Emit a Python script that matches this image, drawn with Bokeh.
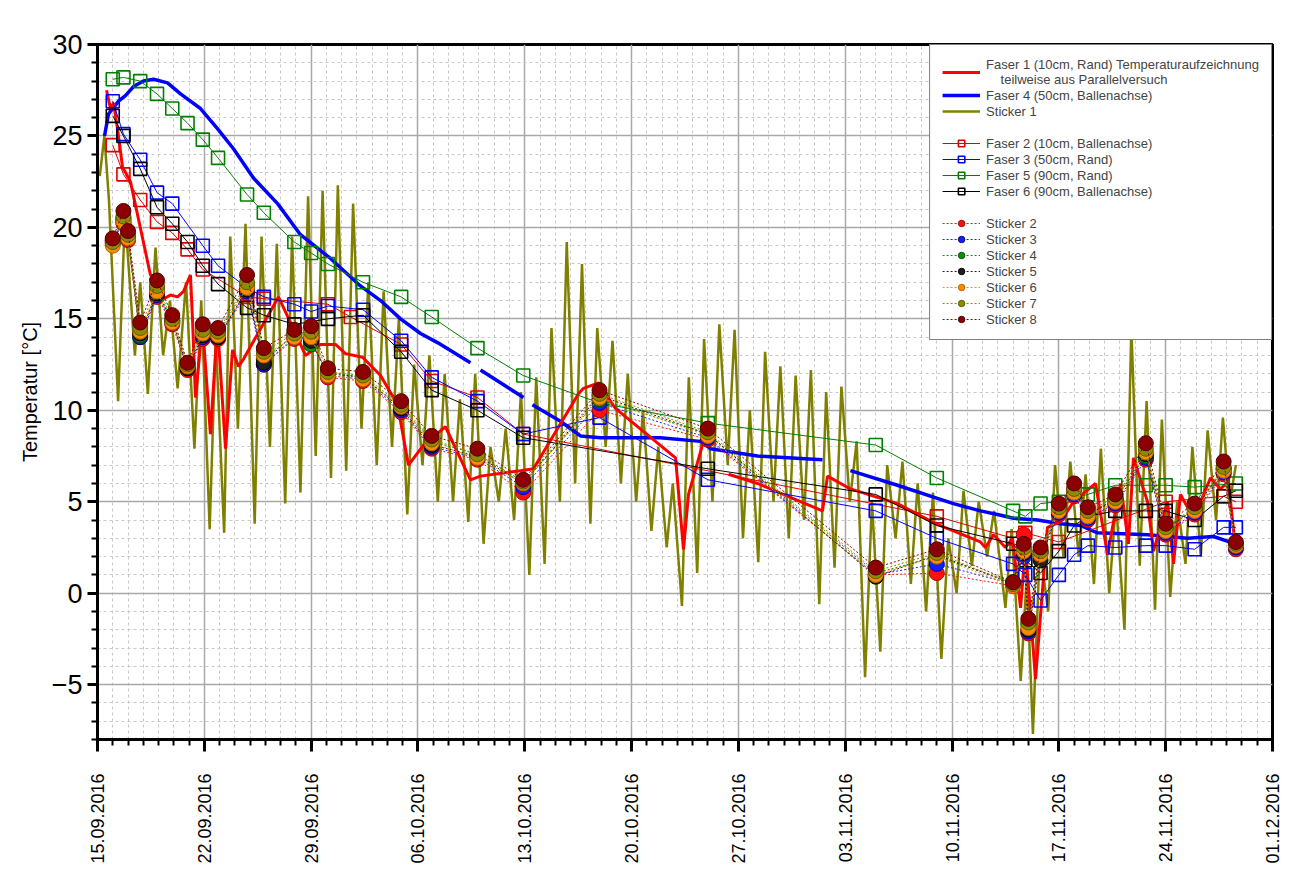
import numpy as np
import pandas as pd
from bokeh.plotting import figure
from bokeh.models import (ColumnDataSource, FixedTicker, DatetimeTickFormatter,
                          Legend, LegendItem, Range1d)
from bokeh.embed import file_html
from bokeh.resources import INLINE

FONT = "Liberation Sans"
START = "15.09.2016"
END = "01.12.2016"

x_tick_labels = ["15.09.2016", "22.09.2016", "29.09.2016", "06.10.2016", "13.10.2016",
                 "20.10.2016", "27.10.2016", "03.11.2016", "10.11.2016", "17.11.2016",
                 "24.11.2016", "01.12.2016"]
y_ticks = [-5, 0, 5, 10, 15, 20, 25, 30]

# ---------------- Faser 1 (thick red), days since 15.09.2016 ----------------
f1_tage = [0.59, 0.85, 1.05, 1.31, 1.64, 2.16, 3.47, 3.93, 4.33, 4.78,
           5.24, 5.64, 6.09, 6.23, 6.42, 6.88, 7.40, 7.86, 8.39, 8.85,
           9.24, 9.57, 11.86, 12.98, 13.63, 14.61, 15.60, 16.25, 17.37, 18.55,
           19.66, 20.38, 21.36, 22.80, 24.44, 25.10, 27.72, 28.57, 31.52, 31.85,
           32.83, 33.94, 37.88, 38.40, 38.73, 39.71, 39.97, 40.5, 41.35, 43.25,
           47.51, 47.84, 49.34, 52.42, 54.91, 57.86, 58.19, 58.72, 59.50, 59.96,
           60.49, 60.81, 61.47, 62.25, 63.11, 63.96, 65.40, 66.19, 67.04, 67.56,
           67.89, 68.81, 69.20, 70.12, 70.51, 70.97, 71.82, 72.94, 73.59, 74.11,
           74.57]
f1_temp = [27.5, 26.5, 26.8, 25.4, 23.3, 22.5, 17.4, 17.2, 16.1, 16.3,
           16.2, 16.5, 17.4, 14.9, 10.7, 14.7, 8.7, 14.7, 7.9, 13.3,
           12.4, 12.8, 16.2, 14.2, 13.0, 13.6, 13.6, 13.1, 12.9, 11.9,
           10.3, 7.0, 8.1, 9.1, 6.2, 6.4, 6.7, 6.8, 10.9, 11.2,
           11.5, 10.1, 7.4, 2.4, 5.4, 8.3, 8.1, np.nan, 6.5, 6.0,
           4.5, 6.4, 5.7, 4.9, 3.8, 2.8, 2.5, 3.2, 2.5, 3.0,
           -0.8, 2.5, -4.7, 3.6, 3.9, 5.0, 6.0, 2.1, 6.0, 2.7,
           7.4, 5.0, 2.3, 5.0, 1.6, 5.4, 4.1, 6.3, 5.7, 6.1,
           2.5]

# ---------------- Faser 4 (thick blue) ----------------
f4_tage = [0.46, 0.72, 1.38, 1.83, 2.36, 3.01, 3.67, 4.59, 5.44, 6.75,
           7.86, 8.91, 10.22, 11.80, 13.30, 15.27, 17.23, 18.55, 19.86, 21.17,
           22.28, 24.44, 24.8, 25.10, 27.92, 28.1, 28.50, 30.34, 31.65, 32.96,
           36.89, 39.51, 40.17, 43.25, 47.51, 48.0, 49.34, 52.42, 56.09, 57.86,
           58.98, 60.03, 61.60, 63.11, 64.42, 65.53, 68.81, 71.43, 73.13, 74.57]
f4_temp = [25.0, 26.2, 26.9, 27.2, 27.7, 28.0, 28.1, 27.9, 27.3, 26.5,
           25.4, 24.3, 22.7, 21.3, 19.6, 18.3, 16.8, 16.0, 15.0, 14.2,
           13.7, 12.6, np.nan, 12.2, 10.7, np.nan, 10.3, 9.4, 8.6, 8.5,
           8.5, 8.3, 7.9, 7.5, 7.3, np.nan, 6.7, 5.9, 4.9, 4.5,
           4.3, 4.1, 4.0, 3.8, 3.7, 3.3, 3.2, 3.0, 3.1, 2.7]

# ---------------- Sticker 1 (olive, continuous logger) ----------------
s1_tage = [0.15, 0.45, 0.75, 1.35, 1.8, 2.45, 2.8, 3.3, 3.8, 4.3,
           4.75, 5.25, 5.8, 6.35, 6.8, 7.35, 7.75, 8.3, 8.7, 9.2,
           9.7, 10.3, 10.75, 11.3, 11.75, 12.3, 12.75, 13.3, 13.8, 14.3,
           14.75, 15.3, 15.75, 16.3, 16.75, 17.3, 17.75, 18.3, 18.75, 19.3,
           19.75, 20.3, 20.75, 21.3, 21.75, 22.3, 22.75, 23.3, 23.75, 24.3,
           24.75, 25.3, 25.75, 26.3, 26.75, 27.3, 27.75, 28.3, 28.75, 29.3,
           29.75, 30.3, 30.75, 31.3, 31.75, 32.3, 32.75, 33.3, 33.75, 34.3,
           34.75, 35.3, 35.75, 36.3, 36.75, 37.3, 37.7, 38.3, 38.75, 39.3,
           39.75, 40.3, 40.75, 41.3, 41.75, 42.3, 42.75, 43.3, 43.75, 44.3,
           44.75, 45.3, 45.75, 46.3, 46.75, 47.3, 47.75, 48.3, 48.75, 49.3,
           49.75, 50.3, 50.75, 51.3, 51.75, 52.3, 52.75, 53.3, 53.75, 54.3,
           54.75, 55.3, 55.75, 56.3, 56.75, 57.3, 57.75, 58.3, 58.75, 59.5,
           59.9, 60.5, 60.9, 61.3, 61.75, 62.3, 62.75, 63.3, 63.75, 64.3,
           64.75, 65.3, 65.75, 66.3, 66.75, 67.3, 67.75, 68.3, 68.75, 69.3,
           69.75, 70.3, 70.75, 71.3, 71.75, 72.3, 72.75, 73.3, 73.75, 74.2,
           74.6]
s1_temp = [22.8, 25.0, 21.5, 10.5, 20.7, 13.0, 17.0, 10.9, 18.9, 13.0,
           16.0, 11.2, 17.0, 7.9, 16.0, 3.5, 14.0, 3.3, 19.5, 9.0,
           20.2, 3.8, 19.5, 8.0, 19.1, 4.9, 19.5, 5.5, 21.7, 7.5,
           22.0, 6.3, 22.3, 6.7, 21.3, 9.0, 17.0, 7.0, 16.5, 8.0,
           15.0, 4.3, 12.5, 7.0, 13.0, 5.0, 12.0, 5.0, 10.6, 3.9,
           12.0, 2.7, 8.0, 5.0, 9.0, 4.0, 11.0, 1.0, 11.8, 1.6,
           14.5, 5.0, 19.2, 6.0, 18.0, 3.8, 14.5, 8.0, 13.8, 6.0,
           12.0, 5.0, 10.0, 3.4, 8.0, 2.5, 6.0, -0.7, 11.8, 1.1,
           13.9, 5.0, 14.7, 7.0, 14.4, 3.0, 10.0, 1.7, 13.2, 5.0,
           12.4, 3.0, 11.9, 4.0, 12.2, -0.6, 11.0, 1.4, 11.3, 5.0,
           8.3, -4.6, 5.0, -3.2, 7.0, 3.0, 7.2, 0.5, 6.0, -1.0,
           5.5, -3.6, 3.0, 0.0, 5.6, 1.5, 5.0, 2.0, 4.5, -0.8,
           3.5, -4.8, 1.0, -7.7, 2.5, -1.0, 7.0, 2.0, 7.2, 2.0,
           6.5, 0.5, 7.9, 0.0, 5.0, -2.0, 14.5, 1.5, 10.5, -0.9,
           9.5, -0.2, 5.0, 1.6, 8.0, 2.0, 8.9, 4.0, 9.6, 5.0,
           7.0]

# ---------------- Faser 2, 3, 5, 6 (squares) ----------------
faser_tage = [1.0, 1.7, 2.8, 3.9, 4.9, 5.9, 6.9, 7.9, 9.8, 10.9,
              12.9, 14.0, 15.1, 16.6, 17.4, 19.9, 21.9, 24.9, 27.9, 32.9,
              40.0, 51.0, 55.0, 60.0, 60.8, 61.8, 63.0, 64.0, 64.9, 66.7,
              68.7, 70.0, 71.9, 73.8, 74.6]
f2_temp = [24.5, 22.9, 21.5, 20.3, 19.7, 18.8, 17.7, np.nan, 16.2, 16.1,
           np.nan, np.nan, 15.8, 15.1, np.nan, 13.6, 11.6, 10.7, 8.7, np.nan,
           np.nan, np.nan, 4.2, 3.0, 3.3, np.nan, 2.8, np.nan, np.nan, np.nan,
           np.nan, 5.0, np.nan, 5.3, 5.0]
f3_temp = [26.9, 25.1, 23.7, 21.9, 21.3, np.nan, 19.0, 17.9, 16.7, 16.2,
           15.8, 15.4, 15.7, np.nan, 15.5, 13.8, 11.8, 10.5, 8.7, 9.6,
           6.2, 4.5, 3.0, 1.6, 1.0, -0.4, 1.0, 2.1, 2.6, 2.5,
           2.6, 2.6, 2.4, 3.6, 3.6]
f5_temp = [28.1, 28.2, 28.0, 27.3, 26.5, 25.7, 24.8, 23.8, 21.8, 20.8,
           19.2, 18.6, 18.0, np.nan, 17.0, 16.2, 15.1, 13.4, 11.9, 10.4,
           9.3, 8.1, 6.3, 4.5, 4.2, 4.9, 5.0, np.nan, 5.4, 5.9,
           5.9, 5.9, 5.8, np.nan, 6.0]
f6_temp = [26.1, 25.0, 23.2, 21.1, 20.2, 19.2, 17.9, 16.9, 15.6, 15.2,
           14.7, np.nan, 15.0, np.nan, 15.2, 13.2, 11.1, 10.0, 8.5, np.nan,
           6.8, 5.4, 3.7, 2.7, 1.8, 1.1, 2.3, 3.7, 4.2, 4.5,
           4.5, 4.5, 4.0, 5.3, 5.6]

# ---------------- Sticker 2 - 8 (spheres) ----------------
sticker_tage = [1.0, 1.7, 2.0, 2.8, 3.9, 4.9, 5.9, 6.9, 7.9, 9.8,
                10.9, 12.9, 14.0, 15.1, 17.4, 19.9, 21.9, 24.9, 27.9, 32.9,
                40.0, 51.0, 55.0, 60.0, 60.7, 61.0, 61.8, 63.0, 64.0, 64.9,
                66.7, 68.7, 70.0, 71.9, 73.8, 74.6]
st2 = [19.3, 20.2, 19.3, 14.0, 16.2, 14.7, 12.2, 13.9, 13.9, 16.4,
       12.5, 13.9, 13.8, 11.8, 11.6, 9.9, 7.9, 7.3, 5.5, 10.0,
       8.4, 1.0, 1.1, 0.4, 3.2, -2.2, 2.3, 4.3, 5.3, 4.0,
       4.8, 7.3, 3.2, 4.3, 6.5, 2.4]
st3 = [19.2, 20.3, 19.4, 14.0, 16.3, 14.8, 12.3, 14.0, 14.0, 16.5,
       12.5, 14.0, 13.9, 11.9, 11.7, 10.0, 8.0, 7.4, 5.8, 10.4,
       8.5, 1.0, 1.6, 0.5, 2.0, -2.1, 2.2, 4.4, 5.4, 4.1,
       4.9, 7.4, 3.3, 4.4, 6.6, 2.5]
st4 = [19.3, 20.4, 19.5, 14.1, 16.6, 14.9, 12.4, 14.3, 14.2, 16.8,
       12.8, 14.1, 13.6, 12.1, 11.8, 10.2, 8.3, 7.6, 6.1, 10.6,
       8.7, 1.1, 2.0, 0.6, 2.4, -1.7, 2.3, 4.6, 5.7, 4.4,
       5.1, 7.5, 3.6, 4.6, 6.8, 2.7]
st5 = [19.1, 20.5, 19.5, 14.2, 16.4, 14.9, 12.3, 14.1, 14.0, 16.6,
       12.6, 14.2, 13.8, 12.0, 11.8, 10.1, 8.1, 7.5, 6.0, 10.8,
       8.7, 0.9, 2.1, 0.5, 2.2, -2.0, 1.8, 4.6, 5.6, 4.3,
       5.1, 7.6, 3.5, 4.6, 6.8, 2.6]
st6 = [19.0, 20.3, 19.4, 14.3, 16.5, 14.8, 12.4, 14.2, 14.1, 16.7,
       13.0, 14.0, 14.0, 11.9, 11.7, 10.2, 8.2, 7.4, 6.0, 10.7,
       8.6, 1.0, 2.0, 0.4, 2.3, -1.9, 2.1, 4.5, 5.5, 4.2,
       5.0, 7.7, 3.4, 4.5, 6.7, 2.6]
st7 = [19.2, 20.6, 19.6, 14.5, 16.8, 15.0, 12.5, 14.4, 14.3, 17.0,
       13.2, 14.2, 14.3, 12.1, 11.9, 10.3, 8.4, 7.6, 6.1, 10.9,
       8.8, 1.2, 2.2, 0.5, 2.5, -1.6, 2.3, 4.7, 5.7, 4.5,
       5.2, 7.9, 3.6, 4.7, 6.9, 2.7]
st8 = [19.4, 20.9, 19.8, 14.8, 17.1, 15.2, 12.6, 14.7, 14.5, 17.4,
       13.4, 14.4, 14.6, 12.3, 12.1, 10.5, 8.6, 7.9, 6.2, 11.1,
       9.0, 1.4, 2.4, 0.6, 2.7, -1.4, 2.5, 4.9, 6.0, 4.7,
       5.4, 8.2, 3.8, 4.9, 7.2, 2.8]

# ------------------------------------------------------------------
start = pd.to_datetime(START, format="%d.%m.%Y")
end = pd.to_datetime(END, format="%d.%m.%Y")


def to_dt(tage):
    return start + pd.to_timedelta(np.asarray(tage, dtype=float), unit="D")


def ms(ts):
    return [t.value // 10**6 for t in ts]


tick_ts = pd.to_datetime(x_tick_labels, format="%d.%m.%Y")
minor_ts = pd.date_range(start, end, freq="D")

p = figure(width=1283, height=870, output_backend="svg", toolbar_location=None,
           x_axis_type="datetime",
           x_range=Range1d(start, end), y_range=Range1d(-8, 30),
           min_border_left=97, min_border_right=11, min_border_top=44,
           min_border_bottom=131)
p.background_fill_color = "white"
p.border_fill_color = "white"
p.outline_line_color = "black"
p.outline_line_width = 3

# axes
p.xaxis.ticker = FixedTicker(ticks=ms(tick_ts), minor_ticks=ms(minor_ts))
fmt = "%d.%m.%Y"
p.xaxis.formatter = DatetimeTickFormatter(milliseconds=fmt, seconds=fmt, minsec=fmt,
                                          minutes=fmt, hourmin=fmt, hours=fmt, days=fmt,
                                          months=fmt, years=fmt)
p.yaxis.ticker = FixedTicker(ticks=y_ticks, minor_ticks=list(range(-8, 31)))
for ax in (p.xaxis[0], p.yaxis[0]):
    ax.axis_line_width = 3
    ax.axis_line_color = "black"
    ax.major_tick_line_width = 3
    ax.minor_tick_line_width = 2
    ax.major_tick_in = 0
    ax.minor_tick_in = 0
    ax.major_label_text_font = FONT
    ax.major_label_text_color = "black"
p.xaxis.major_tick_out = 12
p.xaxis.minor_tick_out = 6
p.yaxis.major_tick_out = 10
p.yaxis.minor_tick_out = 6
p.xaxis.major_label_orientation = np.pi / 2
p.xaxis.major_label_text_font_size = "18px"
p.xaxis.major_label_standoff = 22
p.yaxis.major_label_text_font_size = "27px"
p.yaxis.major_label_standoff = 5
p.yaxis.axis_label = "Temperatur [°C]"
p.yaxis.axis_label_text_font = FONT
p.yaxis.axis_label_text_font_size = "20px"
p.yaxis.axis_label_text_font_style = "normal"
p.yaxis.axis_label_text_color = "black"
p.yaxis.axis_label_standoff = 8

# grid
for g in (p.xgrid[0], p.ygrid[0]):
    g.grid_line_color = "#a8a8a8"
    g.grid_line_width = 1.5
    g.minor_grid_line_color = "#c8c8c8"
    g.minor_grid_line_dash = "3 3"
    g.minor_grid_line_width = 1

# Sticker 1 (olive continuous)
r_s1 = p.line(to_dt(s1_tage), s1_temp, line_color="#808000", line_width=2.5)
# Faser 4 (blue thick)
r_f4 = p.line(to_dt(f4_tage), f4_temp, line_color="#0000ff", line_width=3.5)
# Faser 1 (red thick)
r_f1 = p.line(to_dt(f1_tage), f1_temp, line_color="#ff0000", line_width=3)

faser_series = [
    ("Faser 2 (10cm, Ballenachse)", f2_temp, "#e00000"),
    ("Faser 3 (50cm, Rand)", f3_temp, "#0000ff"),
    ("Faser 5 (90cm, Rand)", f5_temp, "#008000"),
    ("Faser 6 (90cm, Ballenachse)", f6_temp, "#000000"),
]
faser_items = []
for name, vals, col in faser_series:
    v = np.asarray(vals, dtype=float)
    ok = ~np.isnan(v)
    src = ColumnDataSource(dict(x=to_dt(np.asarray(faser_tage)[ok]), y=v[ok]))
    rl = p.line("x", "y", source=src, line_color=col, line_width=1)
    rs = p.scatter("x", "y", source=src, marker="square", size=13, fill_color=None,
                   line_color=col, line_width=1.6)
    faser_items.append(LegendItem(label=name, renderers=[rl, rs]))

sticker_series = [
    ("Sticker 2", st2, "#ff1010", "#b00000"),
    ("Sticker 3", st3, "#1020ff", "#0000a0"),
    ("Sticker 4", st4, "#109010", "#005000"),
    ("Sticker 5", st5, "#202020", "#000000"),
    ("Sticker 6", st6, "#ff8c00", "#c06000"),
    ("Sticker 7", st7, "#8c8c00", "#5a5a00"),
    ("Sticker 8", st8, "#8b0000", "#500000"),
]
sticker_items = []
for name, vals, col, edge in sticker_series:
    src = ColumnDataSource(dict(x=to_dt(sticker_tage), y=vals))
    rl = p.line("x", "y", source=src, line_color=col, line_width=1, line_dash="2 2")
    rs = p.scatter("x", "y", source=src, marker="circle", size=15, fill_color=col,
                   line_color=edge, line_width=1)
    sticker_items.append(LegendItem(label=name, renderers=[rl, rs]))

items = [
    LegendItem(label="Faser 1 (10cm, Rand) Temperaturaufzeichnung\n    teilweise aus Parallelversuch",
               renderers=[r_f1]),
    LegendItem(label="Faser 4 (50cm, Ballenachse)", renderers=[r_f4]),
    LegendItem(label="Sticker 1", renderers=[r_s1]),
    LegendItem(label=" ", renderers=[]),
] + faser_items + [LegendItem(label=" ", renderers=[])] + sticker_items

legend = Legend(items=items, location="top_right", margin=0, padding=12,
                spacing=0, label_height=16, glyph_height=16, glyph_width=38,
                label_standoff=6, label_text_font=FONT, label_text_font_size="13px",
                label_text_line_height=1.1,
                border_line_color="black", border_line_width=1.5,
                background_fill_color="white", background_fill_alpha=1.0)
p.add_layout(legend, "center")

open("out.html", "w").write(file_html(p, INLINE))
